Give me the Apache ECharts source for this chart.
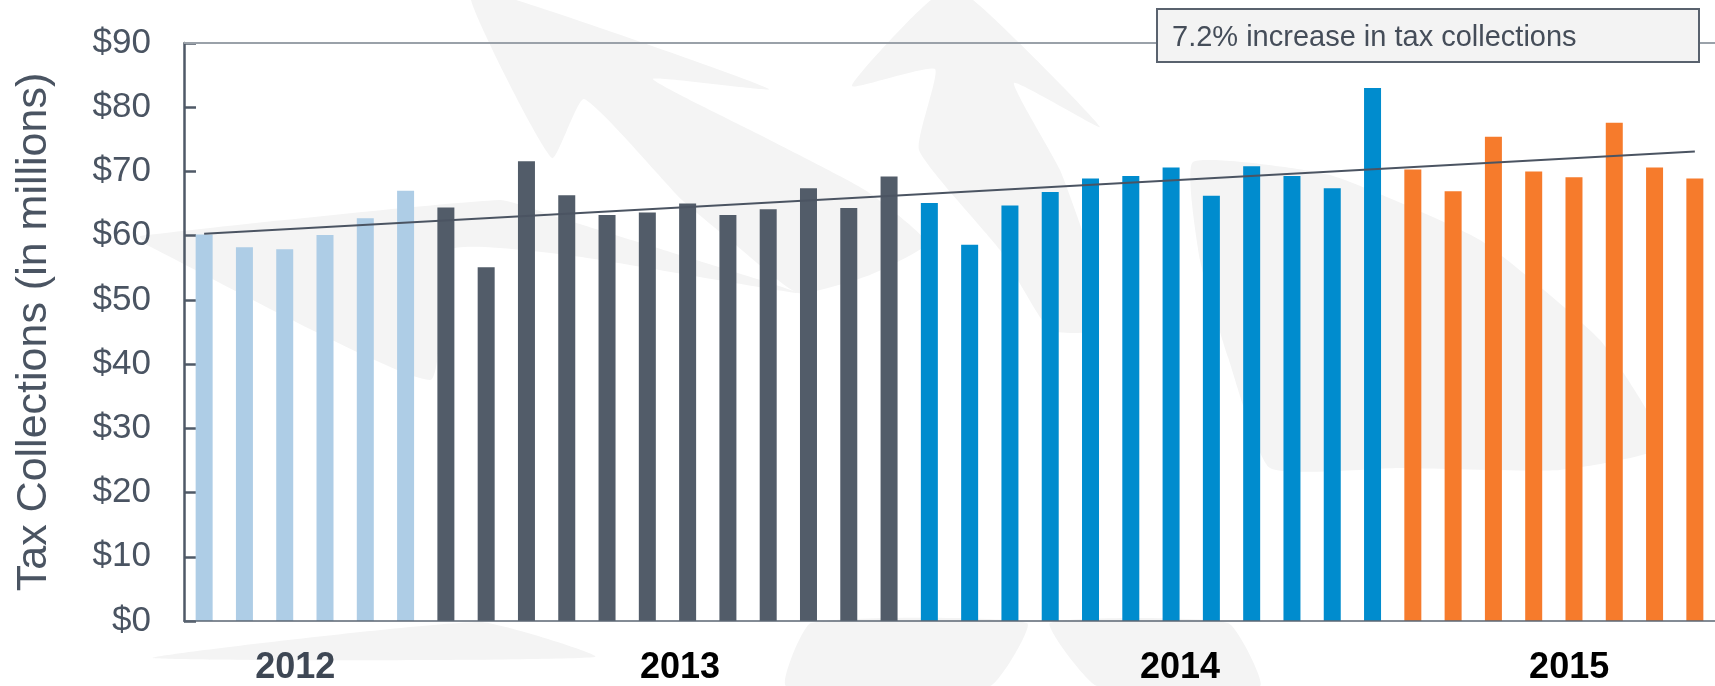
<!DOCTYPE html>
<html>
<head>
<meta charset="utf-8">
<title>Tax Collections</title>
<script src="https://cdn.jsdelivr.net/npm/echarts@6/dist/echarts.min.js"></script>
<style>
* { margin: 0; padding: 0; }
body { background: #fff; }
#chart { width: 1715px; height: 686px; }
</style>
</head>
<body>
<div id="chart"></div>
<script>
// data (millions of dollars)
const years = ['2012', '2013', '2014', '2015']
const months = ['Jan', 'Feb', 'Mar', 'Apr', 'May', 'Jun', 'Jul', 'Aug', 'Sep', 'Oct', 'Nov', 'Dec']
const months2012 = months.slice(6)
const months2015 = months.slice(0, 8)
const values2012 = [60.2, 58.2, 57.9, 60.1, 62.7, 67.0]
const values2013 = [64.4, 55.1, 71.6, 66.3, 63.2, 63.6, 65.0, 63.2, 64.1, 67.4, 64.3, 69.2]
const values2014 = [65.1, 58.6, 64.7, 66.8, 68.9, 69.3, 70.6, 66.2, 70.8, 69.3, 67.4, 83.0]
const values2015 = [70.3, 66.9, 75.4, 70.0, 69.1, 77.6, 70.6, 68.9]
const trendStart = 60.3 // trend line value at first month
const trendEnd = 73.1   // trend line value at last month
const targetLine = 90
const note = '7.2% increase in tax collections'

const font = 'Liberation Sans, Arial, sans-serif'
const yearColors = ['#aecde6', '#525c69', '#008cce', '#f67b2c']

const categories = []
const barData = []
const monthsByYear = [months2012, months, months, months2015]
;[values2012, values2013, values2014, values2015].forEach((vals, i) => {
    vals.forEach((v, j) => {
        categories.push(monthsByYear[i][j] + ' ' + years[i])
        barData.push({ value: v, itemStyle: { color: yearColors[i] } })
    })
})

// where the year captions sit, in bar slots from the left
const yearLabelPos = [2.76, 12.31, 24.72, 34.38]

// faint logo watermark behind the plot (rough outline)
const wm = '#f4f4f4'
const watermark = [
    [[471, 0], [516, 0], [769, 89], [653, 79], [760, 135], [865, 190], [927, 243], [870, 275], [798, 293], [730, 240], [682, 200], [584, 99], [552, 158]],
    [[140, 236], [500, 200], [560, 218], [680, 255], [798, 293], [574, 256], [450, 250], [430, 380], [147, 245]],
    [[931, 0], [973, 0], [1100, 127], [1014, 83], [1060, 170], [1089, 253], [1095, 330], [1050, 330], [1000, 250], [919, 150], [935, 69], [852, 86]],
    [[1193, 162], [1330, 175], [1480, 240], [1600, 340], [1663, 446], [1560, 470], [1400, 468], [1270, 468], [1228, 357], [1200, 260]],
    [[153, 658], [480, 622], [595, 657]],
    [[811, 623], [1027, 623], [990, 686], [786, 686]],
    [[1050, 623], [1228, 623], [1260, 686], [1097, 686]]
].map(pts => ({ type: 'polygon', silent: true, z: -10, shape: { points: pts, smooth: 0.15 }, style: { fill: wm } }))

const chart = echarts.init(document.getElementById('chart'))
chart.setOption({
    animation: false,
    textStyle: { fontFamily: font },
    grid: { left: 184, right: -12, top: 43, bottom: 64 },
    xAxis: [
        {
            type: 'category',
            data: categories,
            axisLine: { lineStyle: { color: '#5b6573', width: 1.5 } },
            axisTick: { show: false },
            axisLabel: { show: false },
            z: 3
        },
        {
            type: 'value',
            min: 0,
            max: categories.length,
            position: 'bottom',
            axisLine: { show: false },
            axisTick: { show: false },
            splitLine: { show: false },
            axisLabel: {
                customValues: yearLabelPos,
                margin: 29,
                formatter: v => {
                    const i = yearLabelPos.indexOf(v)
                    if (i < 0) return ''
                    return (i === 0 ? '{g|' : '{k|') + years[i] + '}'
                },
                rich: {
                    g: { fontSize: 36, fontWeight: 'bold', color: '#3e4754', fontFamily: font },
                    k: { fontSize: 36, fontWeight: 'bold', color: '#000', fontFamily: font }
                }
            }
        }
    ],
    yAxis: {
        type: 'value',
        min: 0,
        max: 90,
        interval: 10,
        name: 'Tax Collections (in millions)',
        nameLocation: 'middle',
        nameRotate: 90,
        nameGap: 128,
        nameTextStyle: { fontSize: 43, color: '#4a5462', fontFamily: font },
        axisLine: { show: true, lineStyle: { color: '#4f5967', width: 2.5 } },
        axisTick: { show: true, inside: true, length: 12, lineStyle: { color: '#4f5967', width: 2.5 } },
        splitLine: { show: false },
        axisLabel: { formatter: '${value}', fontSize: 35, color: '#4a5462', margin: 33 }
    },
    series: [
        {
            type: 'bar',
            data: barData,
            barWidth: 17,
            markLine: {
                silent: true,
                symbol: 'none',
                label: { show: false },
                lineStyle: { color: '#4b5462', width: 2, type: 'solid' },
                data: [
                    { yAxis: targetLine, lineStyle: { color: '#9aa1a9', width: 2, type: 'solid' } },
                    [
                        { coord: [categories[0], trendStart] },
                        { coord: [categories[categories.length - 1], trendEnd] }
                    ]
                ]
            }
        }
    ],
    graphic: watermark.concat([
        {
            type: 'rect',
            zlevel: 1,
            z: 100,
            shape: { x: 1157, y: 9, width: 542, height: 53 },
            style: { fill: '#f3f3f3', stroke: '#59626e', lineWidth: 2 }
        },
        {
            type: 'text',
            zlevel: 1,
            z: 101,
            x: 1172,
            y: 38,
            style: { text: note, fontSize: 29, fontFamily: font, fill: '#454d59', verticalAlign: 'middle' }
        }
    ])
})
</script>
</body>
</html>
